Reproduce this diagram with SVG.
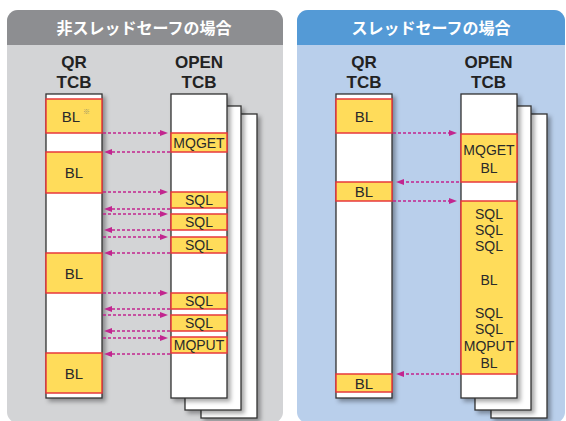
<svg xmlns="http://www.w3.org/2000/svg" width="566" height="421" viewBox="0 0 566 421">
<style>
.hdr{font-family:"Noto Sans CJK JP","Noto Sans",sans-serif;font-weight:bold;font-size:16px;fill:#fff;text-anchor:middle}
.ttl{font-family:"Liberation Sans",Arial,sans-serif;font-weight:bold;font-size:17px;fill:#222;text-anchor:middle}
.lbl{font-family:"Liberation Sans",Arial,sans-serif;font-size:14px;fill:#2a2a2a;text-anchor:middle}
.bl{font-family:"Liberation Sans",Arial,sans-serif;font-size:15px;fill:#2a2a2a;text-anchor:middle}
.col{fill:#fff;stroke:#333;stroke-width:1.3}
.blk{fill:#ffdc5a;stroke:#e8383d;stroke-width:1.5}
.arr{stroke:#c2258f;stroke-width:1.3;stroke-dasharray:3 2;fill:none;marker-end:url(#ah)}
</style>
<defs>
<filter id="sh" x="-20%" y="-10%" width="150%" height="130%">
<feDropShadow dx="3" dy="3" stdDeviation="2" flood-color="#000" flood-opacity="0.35"/>
</filter>
<marker id="ah" markerWidth="9" markerHeight="7" refX="0" refY="3" orient="auto" markerUnits="userSpaceOnUse">
<path d="M0,0 L8,3 L0,6 z" fill="#c2258f"/>
</marker>
</defs>

<g id="panel-left">
<rect x="7" y="10" width="276" height="413" rx="11" fill="#d3d4d6"/>
<path d="M7,45 V21 A11,11 0 0 1 18,10 H272 A11,11 0 0 1 283,21 V45 Z" fill="#8d8e91"/>
<text class="hdr" x="144" y="34">非スレッドセーフの場合</text>
</g>
<g id="panel-right">
<rect x="297" y="10" width="268" height="413" rx="11" fill="#b9cfeb"/>
<path d="M297,45 V21 A11,11 0 0 1 308,10 H554 A11,11 0 0 1 565,21 V45 Z" fill="#549ad6"/>
<text class="hdr" x="431" y="34">スレッドセーフの場合</text>
</g>

<g id="left-qr">
<text class="ttl" x="74" y="68">QR</text>
<text class="ttl" x="74" y="88">TCB</text>
<rect class="col" x="46" y="94" width="56" height="304" filter="url(#sh)"/>
<rect class="blk" x="46" y="99" width="56" height="34"/>
<text class="bl" x="71" y="121.5">BL</text>
<text x="83" y="114" font-family="'Noto Sans CJK JP',sans-serif" font-size="7" fill="#9a9468">※</text>
<rect class="blk" x="46" y="152" width="56" height="41"/>
<text class="bl" x="74" y="178">BL</text>
<rect class="blk" x="46" y="253" width="56" height="40"/>
<text class="bl" x="74" y="278.5">BL</text>
<rect class="blk" x="46" y="353" width="56" height="40"/>
<text class="bl" x="74" y="378.5">BL</text>
</g>

<g id="left-open">
<text class="ttl" x="199" y="68">OPEN</text>
<text class="ttl" x="199" y="88">TCB</text>
<rect class="col" x="201" y="114" width="56" height="304" filter="url(#sh)"/>
<rect class="col" x="185" y="106" width="56" height="304" filter="url(#sh)"/>
<rect class="col" x="171" y="94" width="56" height="304" filter="url(#sh)"/>
<rect class="blk" x="171" y="133" width="56" height="19"/>
<text class="lbl" x="199" y="147.5">MQGET</text>
<rect class="blk" x="171" y="192" width="56" height="16"/>
<text class="lbl" x="199" y="205">SQL</text>
<rect class="blk" x="171" y="214" width="56" height="16"/>
<text class="lbl" x="199" y="227">SQL</text>
<rect class="blk" x="171" y="237" width="56" height="16"/>
<text class="lbl" x="199" y="250">SQL</text>
<rect class="blk" x="171" y="293" width="56" height="16"/>
<text class="lbl" x="199" y="306">SQL</text>
<rect class="blk" x="171" y="315" width="56" height="16"/>
<text class="lbl" x="199" y="328">SQL</text>
<rect class="blk" x="171" y="337" width="56" height="16"/>
<text class="lbl" x="199" y="350">MQPUT</text>
</g>

<g id="right-qr">
<text class="ttl" x="364" y="68">QR</text>
<text class="ttl" x="364" y="88">TCB</text>
<rect class="col" x="336" y="94" width="56" height="304" filter="url(#sh)"/>
<rect class="blk" x="336" y="99" width="56" height="34"/>
<text class="bl" x="364" y="121.5">BL</text>
<rect class="blk" x="336" y="182" width="56" height="19"/>
<text class="bl" x="364" y="197">BL</text>
<rect class="blk" x="336" y="374" width="56" height="18"/>
<text class="bl" x="364" y="388.5">BL</text>
</g>

<g id="right-open">
<text class="ttl" x="488.5" y="68">OPEN</text>
<text class="ttl" x="488.5" y="88">TCB</text>
<rect class="col" x="491" y="114" width="56" height="304" filter="url(#sh)"/>
<rect class="col" x="475" y="106" width="56" height="304" filter="url(#sh)"/>
<rect class="col" x="461" y="94" width="56" height="304" filter="url(#sh)"/>
<rect class="blk" x="461" y="134" width="56" height="48"/>
<text class="lbl" x="489" y="155">MQGET</text>
<text class="lbl" x="489" y="173">BL</text>
<rect class="blk" x="461" y="201" width="56" height="173"/>
<text class="lbl" x="489" y="219">SQL</text>
<text class="lbl" x="489" y="235">SQL</text>
<text class="lbl" x="489" y="251">SQL</text>
<text class="lbl" x="489" y="285">BL</text>
<text class="lbl" x="489" y="318">SQL</text>
<text class="lbl" x="489" y="334">SQL</text>
<text class="lbl" x="489" y="351">MQPUT</text>
<text class="lbl" x="489" y="368">BL</text>
</g>

<g id="connectors">
<line class="arr" x1="103" y1="133" x2="160" y2="133"/>
<line class="arr" x1="170" y1="152" x2="112" y2="152"/>
<line class="arr" x1="103" y1="192" x2="160" y2="192"/>
<line class="arr" x1="170" y1="209" x2="112" y2="209"/>
<line class="arr" x1="103" y1="214" x2="160" y2="214"/>
<line class="arr" x1="170" y1="230" x2="112" y2="230"/>
<line class="arr" x1="103" y1="237" x2="160" y2="237"/>
<line class="arr" x1="170" y1="253" x2="112" y2="253"/>
<line class="arr" x1="103" y1="293" x2="160" y2="293"/>
<line class="arr" x1="170" y1="309" x2="112" y2="309"/>
<line class="arr" x1="103" y1="315" x2="160" y2="315"/>
<line class="arr" x1="170" y1="331" x2="112" y2="331"/>
<line class="arr" x1="103" y1="338" x2="160" y2="338"/>
<line class="arr" x1="170" y1="354" x2="112" y2="354"/>
<line class="arr" x1="393" y1="133" x2="449" y2="133"/>
<line class="arr" x1="459" y1="182" x2="404" y2="182"/>
<line class="arr" x1="393" y1="201" x2="449" y2="201"/>
<line class="arr" x1="459" y1="374" x2="404" y2="374"/>
</g>
</svg>
